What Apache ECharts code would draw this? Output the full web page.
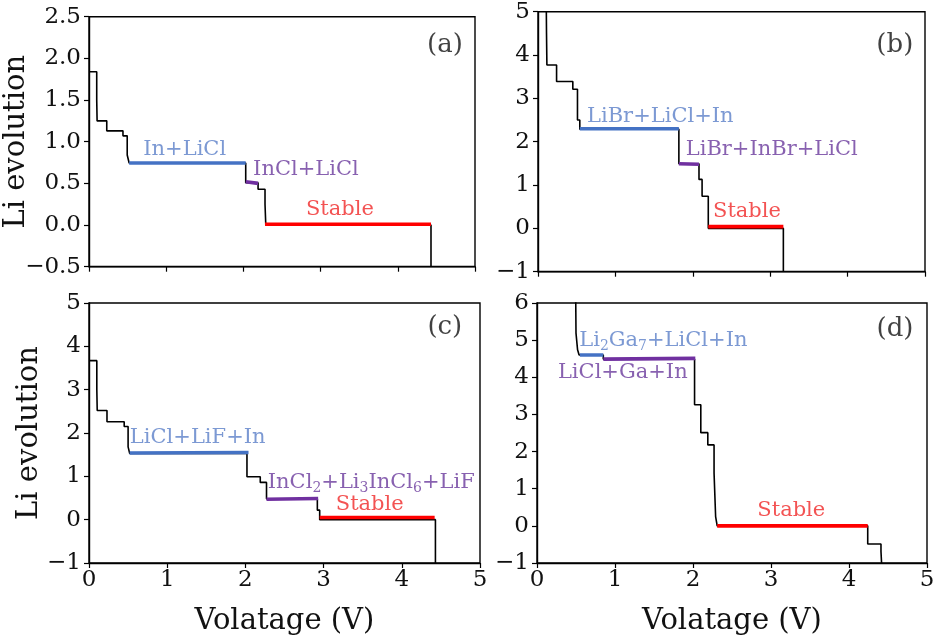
<!DOCTYPE html>
<html><head><meta charset="utf-8">
<script src="https://cdn.jsdelivr.net/npm/echarts@6/dist/echarts.min.js"></script>
<style>html,body{margin:0;padding:0;background:#fff}#c{width:933px;height:642px}</style>
</head><body><div id="c"></div>
<script>
// ---------- DATA ----------
// x ticks (voltage, V)
const xTicks = [0, 1, 2, 3, 4, 5];
// Panel (a): black step profile (voltage where a drop happens, Li value after it)
const aV  = [0.01, 0.10, 0.105, 0.23, 0.44, 0.495, 0.52, 2.03, 2.19, 2.28, 2.29, 4.43];
const aLi = [1.84, 1.50, 1.25, 1.13, 1.07, 0.84, 0.745, 0.508, 0.43, 0.25, 0.0, -0.5];
const aBlueV = [0.52, 2.03], aBlueLi = [0.745, 0.745];
const aPurpV = [2.03, 2.19], aPurpLi = [0.52, 0.50];
const aRedV  = [2.28, 4.43], aRedLi  = [0.01, 0.01];
// Panel (b)
const bV  = [0.105, 0.11, 0.115, 0.24, 0.45, 0.51, 0.54, 1.82, 2.08, 2.12, 2.20, 3.17];
const bLi = [5.6, 4.5, 3.77, 3.39, 3.21, 2.50, 2.29, 1.49, 1.13, 0.74, 0.0, -1.0];
const bBlueV = [0.54, 1.82], bBlueLi = [2.30, 2.30];
const bPurpV = [1.82, 2.08], bPurpLi = [1.49, 1.48];
const bRedV  = [2.20, 3.17], bRedLi  = [0.04, 0.04];
// Panel (c)
const cV  = [0.01, 0.10, 0.105, 0.23, 0.45, 0.50, 0.52, 2.02, 2.19, 2.27, 2.92, 2.95, 4.43];
const cLi = [3.67, 3.0, 2.52, 2.26, 2.15, 1.68, 1.53, 0.99, 0.86, 0.48, 0.22, 0.0, -1.0];
const cBlueV = [0.52, 2.04], cBlueLi = [1.54, 1.55];
const cPurpV = [2.27, 2.93], cPurpLi = [0.47, 0.49];
const cRedV  = [2.95, 4.42], cRedLi  = [0.05, 0.05];
// Panel (d)
const dV  = [0.495, 0.50, 0.52, 0.54, 0.85, 2.02, 2.10, 2.19, 2.27, 2.29, 2.31, 4.24, 4.41, 4.42];
const dLi = [6.5, 5.19, 4.74, 4.60, 4.49, 3.26, 2.51, 2.18, 1.42, 0.25, 0.0, -0.49, -0.69, -1.1];
const dBlueV = [0.55, 0.85], dBlueLi = [4.60, 4.60];
const dPurpV = [0.85, 2.03], dPurpLi = [4.49, 4.51];
const dRedV  = [2.31, 4.24], dRedLi  = [0.0, 0.0];

// y-axis ranges & tick steps
const yRanges = [[-0.5, 2.5, 0.5], [-1, 5, 1], [-1, 5, 1], [-1, 6, 1]];

// annotation texts (phase names) with anchor in data units
const notes = [
  [{t:'In+LiCl', c:'blue', v:1.24, y:0.91}, {t:'InCl+LiCl', c:'purple', v:2.81, y:0.67}, {t:'Stable', c:'red', v:3.25, y:0.19}, {t:'(a)', c:'black', v:4.61, y:2.16}],
  [{t:'LiBr+LiCl+In', c:'blue', v:1.58, y:2.59}, {t:'LiBr+InBr+LiCl', c:'purple', v:3.02, y:1.83}, {t:'Stable', c:'red', v:2.70, y:0.38}, {t:'(b)', c:'black', v:4.61, y:4.23}],
  [{t:'LiCl+LiF+In', c:'blue', v:1.39, y:1.89}, {t:'InCl{s|2}+Li{s|3}InCl{s|6}+LiF', c:'purple', v:3.61, y:0.85}, {t:'Stable', c:'red', v:3.59, y:0.36}, {t:'(c)', c:'black', v:4.55, y:4.43}],
  [{t:'Li{s|2}Ga{s|7}+LiCl+In', c:'blue', v:1.62, y:4.98}, {t:'LiCl+Ga+In', c:'purple', v:1.10, y:4.12}, {t:'Stable', c:'red', v:3.26, y:0.40}, {t:'(d)', c:'black', v:4.59, y:5.30}]
];

// ---------- BUILD ----------
const FONT = 'DejaVu Serif';
const colLine = {blue:'#4472c4', purple:'#7030a0', red:'#ff0000'};
const colText = {blue:'#5b80c8', purple:'#6a3a9c', red:'#f02828', black:'#111'};
const zip = (xs, ys) => xs.map((x, i) => [x, ys[i]]);
const fmtMinus = s => s.replace('-', '\u2212');

const grids = [
  {left: 89,  top: 16.7, width: 386, height: 250},
  {left: 538, top: 11.7, width: 387, height: 260},
  {left: 89,  top: 303,  width: 391, height: 260},
  {left: 537, top: 303,  width: 390, height: 260}
];
const profiles = [[aV, aLi], [bV, bLi], [cV, cLi], [dV, dLi]];
const segs = [
  [[aBlueV, aBlueLi, 'blue'], [aPurpV, aPurpLi, 'purple'], [aRedV, aRedLi, 'red']],
  [[bBlueV, bBlueLi, 'blue'], [bPurpV, bPurpLi, 'purple'], [bRedV, bRedLi, 'red']],
  [[cBlueV, cBlueLi, 'blue'], [cPurpV, cPurpLi, 'purple'], [cRedV, cRedLi, 'red']],
  [[dBlueV, dBlueLi, 'blue'], [dPurpV, dPurpLi, 'purple'], [dRedV, dRedLi, 'red']]
];

const xAxis = [], yAxis = [], series = [];
grids.forEach((g, i) => {
  const bottom = i >= 2;
  xAxis.push({
    type: 'value', gridIndex: i, min: xTicks[0], max: xTicks[xTicks.length - 1], interval: 1,
    position: 'bottom',
    axisLine: {onZero: false, lineStyle: {color: '#000', width: 1.4}},
    axisTick: {show: true, inside: false, length: 5, lineStyle: {color: '#000', width: 1.2}},
    splitLine: {show: false},
    axisLabel: {show: bottom, color: '#111', fontFamily: FONT, fontSize: 23, margin: 6},
    name: bottom ? 'Volatage (V)' : '', nameLocation: 'middle', nameGap: 44, nameMoveOverlap: false,
    nameTextStyle: {color: '#111', fontFamily: FONT, fontSize: 29}
  });
  const yr = yRanges[i];
  const left = (i % 2 === 0);
  yAxis.push({
    type: 'value', gridIndex: i, min: yr[0], max: yr[1], interval: yr[2],
    position: 'left',
    axisLine: {onZero: false, lineStyle: {color: '#000', width: 1.4}},
    axisTick: {show: true, inside: false, length: 5, lineStyle: {color: '#000', width: 1.2}},
    splitLine: {show: false},
    axisLabel: {color: '#111', fontFamily: FONT, fontSize: 23, margin: 8,
      formatter: v => fmtMinus(i === 0 ? v.toFixed(1) : String(v))},
    name: left ? 'Li evolution' : '', nameLocation: 'middle', nameGap: i === 0 ? 58 : 45, nameMoveOverlap: false,
    nameTextStyle: {color: '#111', fontFamily: FONT, fontSize: 29}
  });
  series.push({
    type: 'line', xAxisIndex: i, yAxisIndex: i, step: 'end', symbol: 'none',
    data: zip(profiles[i][0], profiles[i][1]), clip: true,
    lineStyle: {color: '#000', width: 1.6}, z: 3, silent: true
  });
  segs[i].forEach(s => {
    series.push({
      type: 'line', xAxisIndex: i, yAxisIndex: i, symbol: 'none',
      data: zip(s[0], s[1]), lineStyle: {color: colLine[s[2]], width: 3.6}, z: 4, silent: true
    });
  });
  series.push({
    type: 'scatter', xAxisIndex: i, yAxisIndex: i, symbolSize: 0, silent: true, z: 5,
    data: notes[i].map(n => ({value: [n.v, n.y], label: {
      show: true, position: 'inside', formatter: n.t,
      color: colText[n.c], fontFamily: FONT, fontSize: n.c === 'black' ? 26 : 21,
      rich: {s: {fontSize: 14, fontFamily: FONT, color: colText[n.c], verticalAlign: 'bottom', padding: [11, 0, 0, 0]}}
    }}))
  });
});

const chart = echarts.init(document.getElementById('c'), null, {renderer: 'canvas'});
chart.setOption({
  animation: false,
  backgroundColor: '#fff',
  grid: grids.map(g => Object.assign({show: true, borderColor: '#000', borderWidth: 1.4, backgroundColor: 'transparent', containLabel: false, outerBoundsMode: 'none'}, g)),
  xAxis, yAxis, series
});
</script></body></html>
